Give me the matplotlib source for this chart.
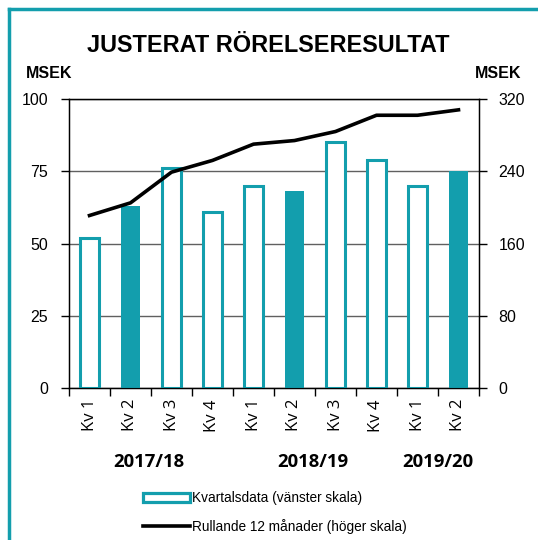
import numpy as np
import matplotlib.pyplot as plt
from matplotlib.patches import Patch
from matplotlib.lines import Line2D

# data
quarters = ["Kv 1", "Kv 2", "Kv 3", "Kv 4", "Kv 1", "Kv 2", "Kv 3", "Kv 4", "Kv 1", "Kv 2"]
quarterly = [52, 63, 76, 61, 70, 68, 85, 79, 70, 75]
rolling12 = [191, 205, 239, 252, 270, 274, 284, 302, 302, 308]
filled = [False, True, False, False, False, True, False, False, False, True]
years = ["2017/18", "2018/19", "2019/20"]
year_pos = [1.45, 5.45, 8.5]

teal = "#139EAD"
W, H = 538, 540

plt.rcParams["font.family"] = ["Liberation Sans", "DejaVu Sans"]
fig = plt.figure(figsize=(W / 100, H / 100), dpi=100)
ax = fig.add_axes([69 / W, 1 - 388 / H, (479 - 69) / W, (388 - 99) / H])

x = np.arange(len(quarters))
for xi, v, f in zip(x, quarterly, filled):
    if f:
        ax.bar(xi, v, width=0.48, color=teal, edgecolor=teal, linewidth=0, zorder=3)
    else:
        ax.bar(xi, v, width=0.45, facecolor="white", edgecolor=teal, linewidth=2.2, zorder=3)

ax.set_xlim(-0.5, len(quarters) - 0.5)
ax.set_ylim(0, 100)
ax.set_yticks([0, 25, 50, 75, 100])
ax.yaxis.grid(True, color="#606060", linewidth=1.0, zorder=0)
ax.set_axisbelow(True)
ax.tick_params(axis="y", labelsize=11.5, length=6, width=1, pad=9)

ax.set_xticks(np.arange(-0.5, len(quarters), 1))
ax.set_xticklabels([])
ax.tick_params(axis="x", which="major", length=6, width=1)
ax.set_xticks(x, minor=True)
ax.set_xticklabels(quarters, minor=True, rotation=90, fontsize=12,
                   family=["Open Sans", "DejaVu Sans"])
ax.tick_params(axis="x", which="minor", length=0, pad=8)

for s in ax.spines.values():
    s.set_linewidth(1)

ax2 = ax.twinx()
ax2.plot(x, rolling12, color="black", linewidth=2.6, zorder=5)
ax2.set_ylim(0, 320)
ax2.set_yticks([0, 80, 160, 240, 320])
ax2.tick_params(axis="y", labelsize=11.5, length=6, width=1, pad=8)

for yp, yr in zip(year_pos, years):
    ax.text(yp, -25.5, yr, ha="center", va="center", fontsize=13.3, fontweight="bold",
            family=["Open Sans", "DejaVu Sans"])

fig.text(268 / W, 1 - 45 / H, "JUSTERAT RÖRELSERESULTAT", ha="center", va="center",
         fontsize=16.9, fontweight="bold")
fig.text(49 / W, 1 - 74 / H, "MSEK", ha="center", va="center", fontsize=11.5, fontweight="bold")
fig.text(498 / W, 1 - 74 / H, "MSEK", ha="center", va="center", fontsize=11.5, fontweight="bold")

handles = [Patch(facecolor="white", edgecolor=teal, linewidth=2.3),
           Line2D([0], [0], color="black", linewidth=2.6)]
labels = ["Kvartalsdata (vänster skala)", "Rullande 12 månader (höger skala)"]
fig.legend(handles, labels, loc="upper left", bbox_to_anchor=(131 / W, 1 - 479 / H),
           frameon=False, fontsize=9.8, handlelength=3.4, handleheight=0.55,
           handletextpad=0.2, labelspacing=1.0)

# teal frame (top and left edges visible)
fig.add_artist(Line2D([9 / W, 9 / W], [0, 1 - 9 / H], color=teal, linewidth=2.5,
                      transform=fig.transFigure))
fig.add_artist(Line2D([9 / W, 1], [1 - 9 / H, 1 - 9 / H], color=teal, linewidth=2.5,
                      transform=fig.transFigure))

fig.savefig("out.png", dpi=100)
